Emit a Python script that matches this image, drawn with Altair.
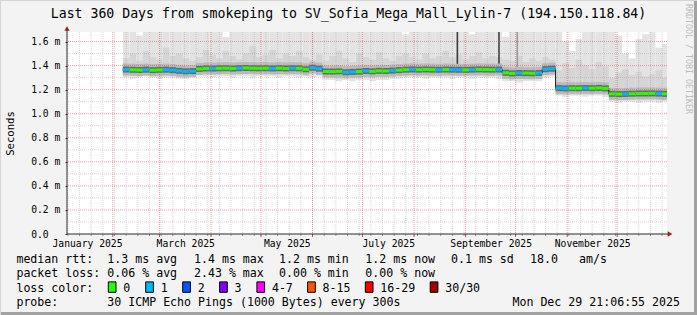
import altair as alt
import pandas as pd

MONO = "DejaVu Sans Mono"

# ------------------------------------------------------------------ data
bucket_start = "2025-02-07"      # first 4-day bucket that holds data
bucket_len = "4D"

median_ms = [
    1.367, 1.365, 1.363, 1.366, 1.362, 1.364, 1.366, 1.362,
    1.356, 1.352, 1.354,
    1.372, 1.376, 1.375, 1.377, 1.378, 1.375, 1.378, 1.380, 1.378, 1.377,
    1.378, 1.376, 1.378, 1.376, 1.378, 1.377, 1.369, 1.382, 1.374,
    1.350, 1.350, 1.352, 1.344, 1.347, 1.350, 1.355, 1.352, 1.356, 1.355,
    1.358, 1.362, 1.366,
    1.368, 1.366, 1.368, 1.366, 1.365, 1.367, 1.366, 1.365, 1.364, 1.366,
    1.368, 1.367, 1.366, 1.367,
    1.340, 1.335, 1.338, 1.337, 1.336, 1.338,
    1.370, 1.374,
    1.212, 1.210, 1.212, 1.211, 1.213, 1.212, 1.214, 1.210,
    1.165, 1.163, 1.164, 1.166, 1.168, 1.168, 1.169, 1.167, 1.165,
]
loss_idx = [
    1, 0, 0, 1, 0, 0, 1, 1, 1, 1,
    1, 0, 0, 1, 0, 0, 0, 1, 0, 0,
    0, 0, 1, 0, 0, 1, 0, 0, 1, 1,
    0, 0, 0, 1, 1, 0, 1, 0, 0, 0,
    1, 0, 0, 1, 0, 0, 0, 1, 0, 1,
    1, 0, 1, 0, 0, 0, 1, 0, 0, 1,
    0, 0, 1, 1, 1, 1, 1, 0, 0, 1,
    0, 0, 0, 0, 0, 1, 0, 0, 0, 0,
    1, 0,
]
smoke_lo = [
    1.30, 1.29, 1.30, 1.31, 1.30, 1.29, 1.30, 1.30,
    1.29, 1.29, 1.30,
    1.31, 1.31, 1.30, 1.31, 1.31, 1.30, 1.31, 1.31, 1.30, 1.31,
    1.31, 1.31, 1.30, 1.31, 1.31, 1.30, 1.31, 1.30, 1.31,
    1.28, 1.28, 1.27, 1.28, 1.27, 1.28, 1.28, 1.27, 1.28, 1.28,
    1.29, 1.29, 1.30,
    1.30, 1.30, 1.29, 1.30, 1.30, 1.30, 1.29, 1.30, 1.30, 1.29,
    1.30, 1.30, 1.30, 1.29,
    1.27, 1.27, 1.26, 1.27, 1.27, 1.27,
    1.30, 1.31,
    1.15, 1.14, 1.15, 1.15, 1.14, 1.15, 1.15, 1.14,
    1.10, 1.09, 1.10, 1.10, 1.09, 1.10, 1.10, 1.09, 1.10,
]
smoke_hi = [
    1.70, 1.70, 1.65, 1.70, 1.70, 1.70, 1.70, 1.70,
    1.70, 1.70, 1.70,
    1.70, 1.70, 1.70, 1.70, 1.64, 1.70, 1.70, 1.70, 1.70, 1.70,
    1.70, 1.70, 1.70, 1.70, 1.70, 1.70, 1.70, 1.70, 1.70,
    1.70, 1.70, 1.70, 1.70, 1.70, 1.70, 1.70, 1.70, 1.70, 1.70,
    1.70, 1.70, 1.66,
    1.70, 1.70, 1.70, 1.70, 1.70, 1.70, 1.70, 1.70, 1.70, 1.66,
    1.70, 1.70, 1.70, 1.70,
    1.64, 1.70, 1.70, 1.70, 1.70, 1.70,
    1.70, 1.70,
    1.70, 1.60, 1.52, 1.62, 1.70, 1.70, 1.70, 1.70,
    1.70, 1.65, 1.50, 1.46, 1.62, 1.66, 1.70, 1.55, 1.58,
]
band_lo = [
    1.32, 1.32, 1.33, 1.32, 1.32, 1.31, 1.32, 1.32,
    1.31, 1.31, 1.32,
    1.33, 1.34, 1.33, 1.33, 1.34, 1.33, 1.33, 1.34, 1.33, 1.33,
    1.34, 1.33, 1.33, 1.34, 1.33, 1.33, 1.33, 1.34, 1.33,
    1.30, 1.30, 1.29, 1.30, 1.30, 1.30, 1.31, 1.30, 1.31, 1.31,
    1.31, 1.32, 1.32,
    1.32, 1.32, 1.32, 1.33, 1.32, 1.32, 1.32, 1.33, 1.32, 1.32,
    1.32, 1.32, 1.33, 1.32,
    1.29, 1.29, 1.29, 1.30, 1.29, 1.29,
    1.32, 1.33,
    1.17, 1.17, 1.17, 1.17, 1.16, 1.17, 1.17, 1.17,
    1.12, 1.12, 1.12, 1.13, 1.12, 1.12, 1.13, 1.12, 1.12,
]
band_hi = [
    1.46, 1.50, 1.44, 1.52, 1.47, 1.45, 1.55, 1.48,
    1.50, 1.46, 1.44,
    1.47, 1.53, 1.49, 1.46, 1.52, 1.48, 1.45, 1.50, 1.56, 1.47,
    1.49, 1.53, 1.46, 1.50, 1.48, 1.52, 1.47, 1.45, 1.49,
    1.44, 1.48, 1.52, 1.46, 1.43, 1.50, 1.47, 1.45, 1.51, 1.46,
    1.44, 1.48, 1.50,
    1.47, 1.45, 1.50, 1.46, 1.48, 1.52, 1.47, 1.49, 1.45, 1.48,
    1.51, 1.46, 1.48, 1.47,
    1.45, 1.44, 1.48, 1.43, 1.46, 1.44,
    1.47, 1.45,
    1.36, 1.42, 1.38, 1.45, 1.40, 1.37, 1.43, 1.39,
    1.30, 1.34, 1.37, 1.32, 1.35, 1.31, 1.33, 1.36, 1.30,
]

loss_labels = ["0", "1", "2", "3", "4-7", "8-15", "16-29", "30/30"]
loss_colors = ["#26ff00", "#00b8ff", "#0059ff", "#7e00ff",
               "#ff00ff", "#ff5500", "#ff0000", "#a10000"]

spike_dates = ["2025-08-27", "2025-09-21", "2025-10-02"]
spike_lo = [1.37, 1.367, 1.36]
spike_hi = [1.70, 1.70, 1.70]
spike_kind = ["dark", "dark", "light"]

y_major = [0.2, 0.4, 0.6, 0.8, 1.0, 1.2, 1.4, 1.6]
y_minor = [0.1, 0.3, 0.5, 0.7, 0.9, 1.1, 1.3, 1.5]
y_labels = [0.0, 0.2, 0.4, 0.6, 0.8, 1.0, 1.2, 1.4, 1.6]

# ------------------------------------------------------------------ tables
start = pd.date_range(bucket_start, periods=len(median_ms), freq=bucket_len)
df = pd.DataFrame({
    "start": start,
    "end": start + pd.Timedelta(bucket_len),
    "median": median_ms,
    "loss": [loss_labels[i] for i in loss_idx],
    "lo": smoke_lo, "hi": smoke_hi,
    "blo": band_lo, "bhi": band_hi,
})
spikes = pd.DataFrame({"t": pd.to_datetime(spike_dates), "lo": spike_lo,
                       "hi": spike_hi, "kind": spike_kind})
months = pd.DataFrame({"t": pd.date_range("2025-02-01", "2025-12-01", freq="MS")})
weeks = pd.DataFrame({"t": pd.date_range("2025-01-05", "2025-12-28", freq="7D")})
ymaj = pd.DataFrame({"v": y_major})
ymin = pd.DataFrame({"v": y_minor})
one = pd.DataFrame({"a": [0]})

xscale = alt.Scale(domain=[alt.DateTime(year=2025, month=1, date=4, hours=11),
                           alt.DateTime(year=2025, month=12, date=30, hours=23)],
                   nice=False)
yscale = alt.Scale(domain=[0, 1.679], nice=False, zero=False)
cscale = alt.Scale(domain=loss_labels, range=loss_colors)

label_dates = [
    alt.DateTime(year=2025, month=1, date=16, hours=12),
    alt.DateTime(year=2025, month=3, date=16, hours=12),
    alt.DateTime(year=2025, month=5, date=16, hours=12),
    alt.DateTime(year=2025, month=7, date=16, hours=12),
    alt.DateTime(year=2025, month=9, date=16),
    alt.DateTime(year=2025, month=11, date=16),
]

x_axis = alt.Axis(values=label_dates, labelExpr="timeFormat(datum.value, '%B %Y')",
                  ticks=False, tickSize=0, domain=False, grid=False, title=None,
                  labelFont=MONO, labelFontSize=9.7, labelColor="black",
                  labelPadding=4, labelOverlap=False, labelFlush=False)
y_axis = alt.Axis(values=y_labels,
                  labelExpr="datum.value == 0 ? '0.0' : format(datum.value, '.1f') + ' m'",
                  labelAlign="left", labelBaseline="middle", labelPadding=34.3,
                  tickSize=2, tickColor="#333333", domain=False, grid=False,
                  labelFont=MONO, labelFontSize=9.7, labelColor="black",
                  title="Seconds", titleFont=MONO, titleFontSize=10.6,
                  titleFontWeight="normal", titleColor="black",
                  titleX=-56.5, titleY=101, titleAlign="center",
                  titleBaseline="middle", titleAngle=-90)


def X(f):
    return alt.X(f, type="temporal", scale=xscale, axis=x_axis)


def Y(f):
    return alt.Y(f, type="quantitative", scale=yscale, axis=y_axis)


# smoke
smoke1 = alt.Chart(df).mark_rect(color="#e3e3e3", clip=True).encode(
    x=X("start"), x2="end:T", y=Y("lo"), y2="hi:Q")
smoke2 = alt.Chart(df).mark_rect(color="#d5d5d5", clip=True).encode(
    x=X("start"), x2="end:T", y=Y("blo"), y2="bhi:Q")
spike_dark = alt.Chart(spikes).transform_filter("datum.kind == 'dark'").mark_rule(
    strokeWidth=1.6, clip=True, color="#3c3c3c").encode(x=X("t"), y=Y("lo"), y2="hi:Q")
spike_light = alt.Chart(spikes).transform_filter("datum.kind == 'light'").mark_rule(
    strokeWidth=1.6, clip=True, color="#9a9a9a").encode(x=X("t"), y=Y("lo"), y2="hi:Q")
core1 = alt.Chart(df).mark_rect(color="#bababa", clip=True, yOffset=-6, y2Offset=6).encode(
    x=X("start"), x2="end:T", y=Y("median"), y2="median:Q")
core2 = alt.Chart(df).mark_rect(color="#6a6a6a", clip=True, yOffset=-3, y2Offset=3).encode(
    x=X("start"), x2="end:T", y=Y("median"), y2="median:Q")

# grid
g_ymin = alt.Chart(ymin).mark_rule(color="#909090", opacity=0.35, strokeDash=[1, 1]).encode(y=Y("v"))
g_ymaj = alt.Chart(ymaj).mark_rule(color="#e05050", opacity=0.55, strokeDash=[1, 1]).encode(y=Y("v"))
g_xmin = alt.Chart(weeks).mark_rule(color="#909090", opacity=0.35, strokeDash=[1, 1]).encode(x=X("t"))
g_xmaj = alt.Chart(months).mark_rule(color="#e05050", opacity=0.55, strokeDash=[1, 1]).encode(x=X("t"))
t_xmin = alt.Chart(weeks).mark_rule(color="#999999").encode(
    x=X("t"), y=alt.value(202), y2=alt.value(204))
t_xmaj = alt.Chart(months).mark_rule(color="#d04040").encode(
    x=X("t"), y=alt.value(202), y2=alt.value(205))

# median
step = alt.Chart(df).mark_line(interpolate="step-after", color="#202020",
                               strokeWidth=1, clip=True).encode(
    x=X("start"), y=Y("median"))
med = alt.Chart(df).mark_rect(clip=True, yOffset=-1.5, y2Offset=1.5).encode(
    x=X("start"), x2="end:T", y=Y("median"), y2="median:Q",
    color=alt.Color("loss:N", scale=cscale, legend=None))

# axis lines and arrows
AX = "#2b2b2b"
ARROW = "#a31b1b"
yline = alt.Chart(one).mark_rule(color=AX).encode(x=alt.value(0), y=alt.value(-2), y2=alt.value(202))
xline = alt.Chart(one).mark_rule(color=AX).encode(x=alt.value(0), x2=alt.value(602), y=alt.value(202))
yarrow = alt.Chart(one).mark_point(shape="triangle-up", filled=True, size=28, color=ARROW,
                                   opacity=1).encode(x=alt.value(0), y=alt.value(-3.5))
xarrow = alt.Chart(one).mark_point(shape="triangle-right", filled=True, size=28, color=ARROW,
                                   opacity=1).encode(x=alt.value(603), y=alt.value(202))


def txt(s, x, y, size=11.6, align="left", angle=0, color="black", baseline="alphabetic"):
    return alt.Chart(one).mark_text(text=s, font=MONO, fontSize=size, align=align,
                                    baseline=baseline, angle=angle, color=color).encode(
        x=alt.value(x), y=alt.value(y))


R1, R2, R3, R4 = 231.3, 245.4, 259.5, 273.6   # text baselines (plot coords)
texts = [
    txt("Last 360 Days from smokeping to SV_Sofia_Mega_Mall_Lylin-7 (194.150.118.84)",
        281.5, -14.1, size=13.2, align="center"),
    txt("RRDTOOL / TOBI OETIKER", 621, -28, size=8.3, angle=90, color="#bdbdbd",
        baseline="middle"),
    txt("median rtt:", -50.6, R1),
    txt("1.3 ms avg", 40.3, R1),
    txt("1.4 ms max", 127, R1),
    txt("1.2 ms min", 212, R1),
    txt("1.2 ms now", 298.3, R1),
    txt("0.1 ms sd", 384, R1),
    txt("18.0", 463, R1),
    txt("am/s", 512, R1),
    txt("packet loss:", -50.6, R2),
    txt("0.06 % avg", 40.3, R2),
    txt("2.43 % max", 127, R2),
    txt("0.00 % min", 212, R2),
    txt("0.00 % now", 298.3, R2),
    txt("loss color:", -50.6, R3),
    txt("probe:", -50.6, R4),
    txt("30 ICMP Echo Pings (1000 Bytes) every 300s", 40.3, R4),
    txt("Mon Dec 29 21:06:55 2025", 613, R4, align="right"),
]

# loss-colour key, using the same colour scale as the median line
key_x = [41.3, 78.7, 115.7, 152.6, 189.9, 240.6, 298.3, 363.2]
key = []
for lab, kx in zip(loss_labels, key_x):
    key.append(alt.Chart(pd.DataFrame({"loss": [lab]})).mark_rect(
        stroke="black", strokeWidth=1).encode(
        x=alt.value(kx), x2=alt.value(kx + 7.7), y=alt.value(249.9), y2=alt.value(260.3),
        color=alt.Color("loss:N", scale=cscale, legend=None)))
    key.append(txt(lab, kx + 15, R3))

frame = [
    alt.Chart(one).mark_rect(color="#a2a2a2").encode(
        x=alt.value(627), x2=alt.value(630), y=alt.value(-32), y2=alt.value(283)),
    alt.Chart(one).mark_rect(color="#a2a2a2").encode(
        x=alt.value(-67), x2=alt.value(630), y=alt.value(280), y2=alt.value(283)),
    alt.Chart(one).mark_rect(color="#d6d6d6").encode(
        x=alt.value(-67), x2=alt.value(630), y=alt.value(-32), y2=alt.value(-31)),
    alt.Chart(one).mark_rect(color="#d6d6d6").encode(
        x=alt.value(-67), x2=alt.value(-66), y=alt.value(-32), y2=alt.value(283)),
]

chart = alt.layer(
    smoke1, smoke2, spike_dark, spike_light, core1, core2,
    g_ymin, g_ymaj, g_xmin, g_xmaj, t_xmin, t_xmaj,
    step, med, yline, xline, yarrow, xarrow, *texts, *key, *frame,
).properties(
    width=600, height=202,
    autosize=alt.AutoSizeParams(type="none"),
    padding={"left": 67, "top": 32, "right": 30, "bottom": 81},
    background="#f3f3f3",
).configure_view(stroke=None, fill="white")

chart.save("out.html", embed_options={"renderer": "svg", "actions": False})
